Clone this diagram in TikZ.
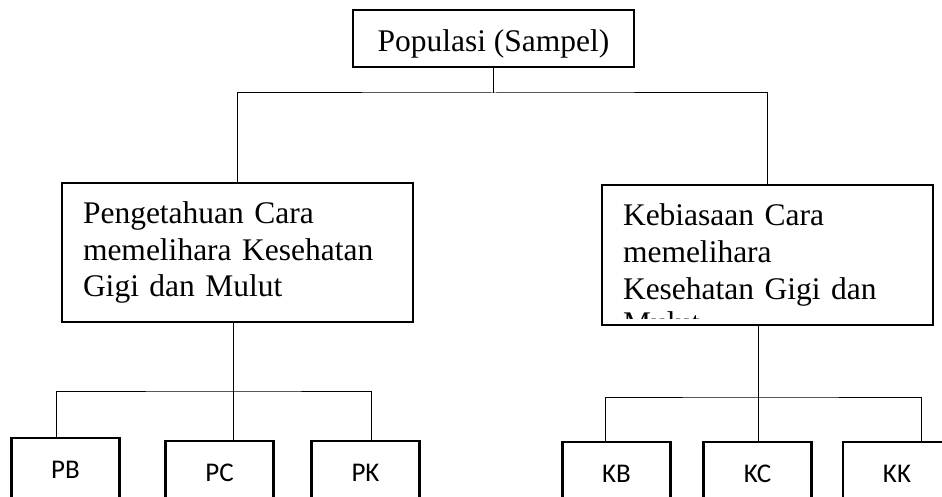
\documentclass[tikz,border=0pt]{standalone}
\usepackage{fontspec}
\setmainfont{Liberation Serif}
\newfontfamily\calibri{Carlito}
\begin{document}
\begin{tikzpicture}[x=1pt,y=-1pt,
    kotak/.style={draw,line width=2.4pt,inner sep=0pt},
    garis/.style={line width=1pt},
    judul/.style={kotak,minimum width=281pt,minimum height=57pt,font=\fontsize{31.5}{36.7}\selectfont,text height=30pt,text depth=3.6pt},
    variabel/.style={kotak,align=left,inner xsep=21pt,font=\fontsize{31.5}{36.7}\selectfont},
    kelas/.style={kotak,anchor=north,minimum width=108pt,minimum height=63pt,font=\calibri\fontsize{27}{32}\selectfont}]
    \useasboundingbox (0,0) rectangle (942,497);
    \clip (0,0) rectangle (942,497);
    \node[judul] (populasi) at (493.5,38.5) {Populasi (Sampel)};
    \node[variabel,text width=309pt,minimum height=139pt] (pengetahuan) at (237.5,252.5) {Pengetahuan Cara\\memelihara Kesehatan\\Gigi dan Mulut};
    \node[variabel,text width=289pt,minimum height=140pt] (kebiasaan) at (767.5,255) {Kebiasaan Cara\\memelihara\\Kesehatan Gigi dan};
    % last line of the right box is cut off above its border
    \begin{scope}
        \clip (kebiasaan.north west) rectangle ([yshift=8pt]kebiasaan.south east);
        \node[anchor=base west,inner sep=0pt,font=\fontsize{31.5}{36.7}\selectfont] (mulut) at (623,333.7) {Mulut};
    \end{scope}
    \node[kelas] (pb) at (65.5,437) {PB};
    \node[kelas] (pc) at (219.5,440) {PC};
    \node[kelas] (pk) at (365.5,440) {PK};
    \node[kelas] (kb) at (616.5,441) {KB};
    \node[kelas] (kc) at (757.5,441) {KC};
    \node[kelas] (kk) at (897,441) {KK};
    \coordinate (atas) at (493.5,93);
    \coordinate (kiri) at (233,391);
    \coordinate (kanan) at (758,397);
    \draw[garis] (populasi.south) -- (atas);
    \draw[garis] (pengetahuan.north) |- (atas) -| (kebiasaan.north);
    \draw[garis] (pengetahuan.south -| kiri) -- (pc.north -| kiri);
    \draw[garis] ([xshift=-9.5pt]pb.north) |- (kiri) -| ([xshift=5.5pt]pk.north);
    \draw[garis] (kebiasaan.south -| kanan) -- (kc.north -| kanan);
    \draw[garis] ([xshift=-11.5pt]kb.north) |- (kanan) -| ([xshift=24pt]kk.north);
\end{tikzpicture}
\end{document}
